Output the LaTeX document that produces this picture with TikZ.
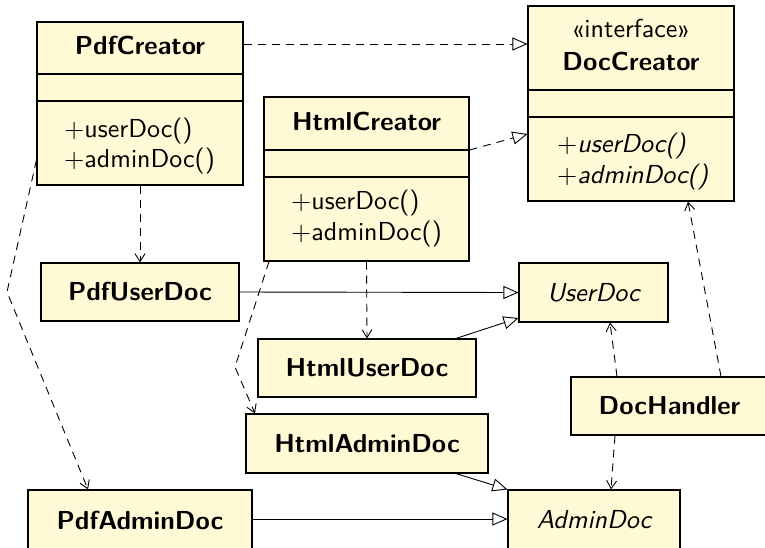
\documentclass[tikz,border=0pt]{standalone}
\usepackage{fontspec}
\setsansfont{lmsans10}[Extension=.otf, UprightFont=*-regular, BoldFont=*-bold,
  ItalicFont=*-oblique, BoldItalicFont=*-boldoblique]
\newfontfamily\plusfont{lmroman10}[Extension=.otf, UprightFont=*-regular]
\usetikzlibrary{arrows.meta}
\definecolor{umlfill}{RGB}{255,249,214}
\tikzset{
  umlbox/.style={draw=black, fill=umlfill, line width=1.1pt, inner sep=0pt,
    font=\sffamily\bfseries\fontsize{26}{30}\selectfont},
  classbox/.style={draw=black, fill=umlfill, line width=1.1pt, inner sep=0pt},
  ctitle/.style={inner sep=0pt, anchor=base, font=\sffamily\bfseries\fontsize{26}{30}\selectfont},
  cstereo/.style={inner sep=0pt, anchor=base, font=\sffamily\fontsize{26}{30}\selectfont},
  cmeth/.style={inner sep=0pt, anchor=base west, font=\sffamily\fontsize{26}{30}\selectfont},
  cimeth/.style={inner sep=0pt, anchor=base west, font=\sffamily\itshape\fontsize{26}{30}\selectfont},
  divider/.style={line width=1.1pt},
  realize/.style={draw=black, line width=0.9pt, dash pattern=on 8pt off 6pt,
    -{Triangle[open, length=15pt, width=13pt, line width=0.9pt]}},
  inherit/.style={draw=black, line width=0.9pt,
    -{Triangle[open, length=15pt, width=13pt, line width=0.9pt]}},
  depend/.style={draw=black, line width=0.9pt, dash pattern=on 8pt off 6pt,
    -{Straight Barb[length=8pt, width=10pt, line width=0.9pt]}},
}
\newcommand{\umlplus}{{\plusfont\upshape +}}
\begin{document}
\begin{tikzpicture}[x=1pt,y=-1pt]
\useasboundingbox (0,0) rectangle (765,547);
\clip (0,0) rectangle (765,547);

% class boxes with compartments
\node[classbox, minimum width=206pt, minimum height=163pt] (pdfc) at (140,103.5) {};
\draw[divider] (pdfc.west |- 0,74) -- (pdfc.east |- 0,74);
\draw[divider] (pdfc.west |- 0,101) -- (pdfc.east |- 0,101);
\node[ctitle] (pdfct) at (140,54) {PdfCreator};
\node[cmeth] (pdfcm1) at (64,137) {\umlplus userDoc()};
\node[cmeth] (pdfcm2) at (64,167) {\umlplus adminDoc()};

\node[classbox, minimum width=205pt, minimum height=164pt] (htmlc) at (366.5,179) {};
\draw[divider] (htmlc.west |- 0,150) -- (htmlc.east |- 0,150);
\draw[divider] (htmlc.west |- 0,177) -- (htmlc.east |- 0,177);
\node[ctitle] (htmlct) at (366.5,130) {HtmlCreator};
\node[cmeth] (htmlcm1) at (291,209) {\umlplus userDoc()};
\node[cmeth] (htmlcm2) at (291,240) {\umlplus adminDoc()};

\node[classbox, minimum width=206pt, minimum height=195pt] (docc) at (631,103.5) {};
\draw[divider] (docc.west |- 0,90) -- (docc.east |- 0,90);
\draw[divider] (docc.west |- 0,117) -- (docc.east |- 0,117);
\node[cstereo] (doccs) at (631,37) {«interface»};
\node[ctitle] (docct) at (631,70) {DocCreator};
\node[cimeth] (doccm1) at (557,152) {\umlplus userDoc()};
\node[cimeth] (doccm2) at (557,183) {\umlplus adminDoc()};

% simple boxes
\node[umlbox, minimum width=198pt, minimum height=58pt] (pdfud) at (140,292) {PdfUserDoc};
\node[umlbox, minimum width=149pt, minimum height=59pt, font=\sffamily\itshape\fontsize{26}{30}\selectfont] (userdoc) at (593.5,292.5) {UserDoc};
\node[umlbox, minimum width=218pt, minimum height=58pt] (htmlud) at (367,368) {HtmlUserDoc};
\node[umlbox, minimum width=242pt, minimum height=59pt] (htmlad) at (367,443.5) {HtmlAdminDoc};
\node[umlbox, minimum width=197pt, minimum height=58pt] (dh) at (669.5,406) {DocHandler};
\node[umlbox, minimum width=224pt, minimum height=60pt] (pdfad) at (140,520) {PdfAdminDoc};
\node[umlbox, minimum width=172pt, minimum height=60pt, font=\sffamily\itshape\fontsize{26}{30}\selectfont] (admindoc) at (594,520) {AdminDoc};

% bend points
\coordinate (bendA) at (7,292);
\coordinate (bendB) at (235,367);

% connectors
\draw[realize] (pdfc.east |- 0,44) -- (docc.west |- 0,44);
\draw[realize] (htmlc.east |- 0,150) -- (docc.west |- 0,134);
\draw[depend] (pdfc.south) -- (pdfud.north);
\draw[depend] (pdfc.west |- 0,160) -- (bendA) -- (pdfad.north -| 88,0);
\draw[depend] (htmlc.south) -- (htmlud.north);
\draw[depend] (htmlc.south -| 269,0) -- (bendB) -- (htmlad.north -| 255,0);
\draw[inherit] (pdfud.east) -- (userdoc.west);
\draw[inherit] (htmlud.north -| 456,0) -- (userdoc.west |- 0,318);
\draw[inherit] (htmlad.south -| 456,0) -- (admindoc.north west);
\draw[inherit] (pdfad.east |- 0,519) -- (admindoc.west |- 0,519);
\draw[depend] (dh.north -| 617,0) -- (userdoc.south -| 610,0);
\draw[depend] (dh.south -| 615,0) -- (admindoc.north -| 611,0);
\draw[depend] (dh.north -| 721,0) -- (docc.south -| 688,0);
\end{tikzpicture}
\end{document}
